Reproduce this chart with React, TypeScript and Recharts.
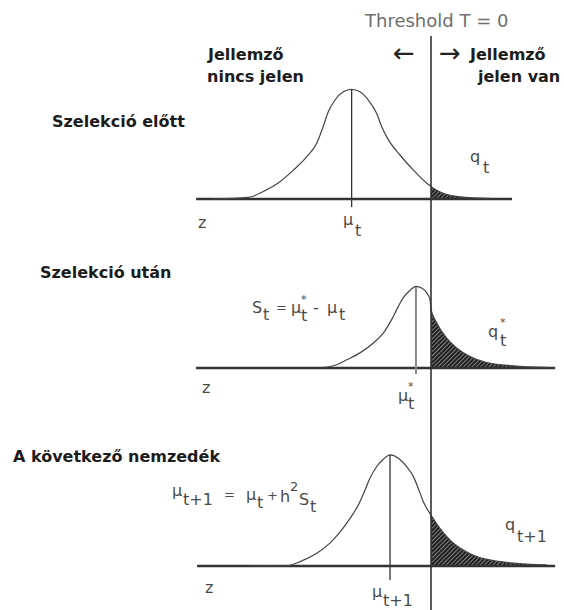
import { Area, ComposedChart, Line, ReferenceLine, XAxis, YAxis } from "recharts";

// Liability scale: the threshold sits at z = 0, densities share one vertical scale.
const zBefore = [-6.84, -5.71, -5.24, -4.72, -4.3, -3.88, -3.57, -3.37, -3.21, -3.0, -2.74, -2.48, -2.22, -1.96, -1.7, -1.54, -1.33, -0.97, -0.55, -0.13, 0, 0.38, 0.91, 1.84];
const densityBefore = [0, 0.006, 0.027, 0.063, 0.105, 0.154, 0.203, 0.263, 0.317, 0.36, 0.39, 0.399, 0.39, 0.36, 0.312, 0.263, 0.215, 0.16, 0.105, 0.057, 0.045, 0.021, 0.008, 0.002];

const zAfter = [-3.37, -2.95, -2.63, -2.22, -1.8, -1.49, -1.23, -1.02, -0.87, -0.66, -0.47, -0.29, -0.13, -0.03, 0, 0.18, 0.49, 0.8, 1.22, 1.74, 2.57, 3.62];
const densityAfter = [0.002, 0.012, 0.03, 0.055, 0.091, 0.127, 0.176, 0.224, 0.255, 0.282, 0.297, 0.291, 0.273, 0.248, 0.212, 0.164, 0.109, 0.073, 0.042, 0.02, 0.008, 0.002];

const zNext = [-5.66, -4.51, -4.09, -3.57, -3.16, -2.79, -2.53, -2.27, -2.06, -1.91, -1.7, -1.49, -1.28, -1.02, -0.76, -0.55, -0.4, -0.24, 0, 0.28, 0.59, 1.01, 1.43, 2.16, 2.99, 3.62];
const densityNext = [0, 0.001, 0.016, 0.046, 0.083, 0.131, 0.173, 0.222, 0.276, 0.319, 0.361, 0.388, 0.404, 0.392, 0.361, 0.325, 0.283, 0.234, 0.185, 0.137, 0.095, 0.058, 0.034, 0.016, 0.007, 0.004];

// population means (mu_t, mu*_t, mu_t+1)
const means = [-2.48, -0.47, -1.28];
// extent of each z axis
const axisExtents: [number, number][] = [[-7.34, 2.53], [-7.34, 3.88], [-7.31, 3.88]];

const THRESHOLD = 0;
const Z_DOMAIN: [number, number] = [-8, 4];
const PX_PER_UNIT = 275;
const W = 564;

type Pt = { z: number; d: number };
const toPoints = (zs: number[], ds: number[]): Pt[] => zs.map((z, i) => ({ z, d: ds[i] }));

const panels = [
  { key: "before", top: 36, bottom: 240, baseline: 199, data: toPoints(zBefore, densityBefore), mu: means[0], axis: axisExtents[0], tick: 8, muColor: "#333", muWidth: 1.3 },
  { key: "after", top: 240, bottom: 425, baseline: 368, data: toPoints(zAfter, densityAfter), mu: means[1], axis: axisExtents[1], tick: 6, muColor: "#8a8a8a", muWidth: 2 },
  { key: "next", top: 425, bottom: 610, baseline: 566, data: toPoints(zNext, densityNext), mu: means[2], axis: axisExtents[2], tick: 14, muColor: "#333", muWidth: 1.3 },
];

type PanelProps = (typeof panels)[number];

function Panel({ key: id, top, bottom, baseline, data, mu, axis, tick, muColor, muWidth }: PanelProps) {
  const height = bottom - top;
  const yDomain: [number, number] = [-(bottom - baseline) / PX_PER_UNIT, (baseline - top) / PX_PER_UNIT];
  const tail = data.filter((p) => p.z >= THRESHOLD);
  const peak = Math.max(...data.map((p) => p.d));
  const hatch = `hatch-${id}`;
  return (
    <div style={{ position: "absolute", left: 0, top }}>
      <ComposedChart width={W} height={height} margin={{ top: 0, right: 5, bottom: 0, left: 175 }}>
        <defs>
          <pattern id={hatch} width={3} height={3} patternUnits="userSpaceOnUse" patternTransform="rotate(45)">
            <rect width={3} height={3} fill="#1e1e1e" />
            <line x1={0} y1={0} x2={0} y2={3} stroke="#fff" strokeWidth={0.9} />
          </pattern>
        </defs>
        <XAxis type="number" dataKey="z" domain={Z_DOMAIN} hide allowDataOverflow />
        <YAxis type="number" domain={yDomain} hide allowDataOverflow />
        <Area
          data={tail}
          dataKey="d"
          type="monotone"
          stroke="none"
          fill={`url(#${hatch})`}
          fillOpacity={1}
          baseValue={0}
          isAnimationActive={false}
        />
        <ReferenceLine
          segment={[{ x: axis[0], y: 0 }, { x: axis[1], y: 0 }]}
          stroke="#333"
          strokeWidth={2.6}
        />
        <ReferenceLine
          segment={[{ x: mu, y: -tick / PX_PER_UNIT }, { x: mu, y: peak }]}
          stroke={muColor}
          strokeWidth={muWidth}
        />
        <Line
          data={data}
          dataKey="d"
          type="monotone"
          dot={false}
          stroke="#444"
          strokeWidth={1.2}
          isAnimationActive={false}
        />
        <ReferenceLine x={THRESHOLD} stroke="#333" strokeWidth={1.6} />
      </ComposedChart>
    </div>
  );
}

const BOLD = { fontFamily: "DejaVu Sans", fontWeight: 700, fontSize: 16, fill: "#1c1c1c" } as const;
const MATH = { fontFamily: "DejaVu Sans", fontSize: 16, fill: "#4a4a4a" } as const;
const OP = { fontFamily: "DejaVu Sans", fontSize: 13, fill: "#4a4a4a" } as const;
const STAR = { fontFamily: "DejaVu Sans", fontSize: 11, fill: "#4a4a4a" } as const;
const ARROW = { fontFamily: "DejaVu Sans", fontSize: 26, fill: "#222" } as const;

function Labels() {
  return (
    <svg width={W} height={610} style={{ position: "absolute", left: 0, top: 0, pointerEvents: "none" }}>
      <text x={365} y={27} fontFamily="DejaVu Sans" fontSize={18} fill="#6e6e6e">Threshold T = 0</text>

      <text x={208} y={60} {...BOLD}>Jellemző</text>
      <text x={207} y={82} {...BOLD}>nincs jelen</text>
      <text x={393} y={62} {...ARROW}>←</text>
      <text x={439} y={62} {...ARROW}>→</text>
      <text x={470} y={60} {...BOLD}>Jellemző</text>
      <text x={478} y={82} {...BOLD}>jelen van</text>

      <text x={52} y={127} {...BOLD}>Szelekció előtt</text>
      <text x={40} y={278} {...BOLD}>Szelekció után</text>
      <text x={13} y={462} {...BOLD}>A következő nemzedék</text>

      {/* before selection */}
      <text x={198} y={228} {...MATH}>z</text>
      <text x={343} y={225} {...MATH}>μ</text>
      <text x={355} y={236} {...MATH}>t</text>
      <text x={470} y={162} {...MATH}>q</text>
      <text x={483} y={173} {...MATH}>t</text>

      {/* after selection */}
      <text x={202} y={393} {...MATH}>z</text>
      <text x={252} y={313} {...MATH}>S</text>
      <text x={263} y={320} {...MATH}>t</text>
      <text x={276} y={312} {...OP}>=</text>
      <text x={291} y={313} {...MATH}>μ</text>
      <text x={301} y={303} {...STAR}>*</text>
      <text x={301} y={321} {...MATH}>t</text>
      <text x={313} y={313} {...MATH}>-</text>
      <text x={327} y={313} {...MATH}>μ</text>
      <text x={339} y={320} {...MATH}>t</text>
      <text x={488} y={337} {...MATH}>q</text>
      <text x={500} y={326} {...STAR}>*</text>
      <text x={500} y={346} {...MATH}>t</text>
      <text x={398} y={401} {...MATH}>μ</text>
      <text x={408} y={390} {...STAR}>*</text>
      <text x={408} y={409} {...MATH}>t</text>

      {/* next generation */}
      <text x={205} y={593} {...MATH}>z</text>
      <text x={172} y={496} {...MATH}>μ</text>
      <text x={183} y={505} {...MATH}>t+1</text>
      <text x={224} y={499} {...OP}>=</text>
      <text x={246} y={500} {...MATH}>μ</text>
      <text x={257} y={508} {...MATH}>t</text>
      <text x={267} y={500} {...OP}>+</text>
      <text x={280} y={502} {...MATH}>h</text>
      <text x={290} y={491} {...MATH} fontSize={13}>2</text>
      <text x={299} y={505} {...MATH}>S</text>
      <text x={310} y={512} {...MATH}>t</text>
      <text x={505} y={530} {...MATH}>q</text>
      <text x={517} y={542} {...MATH}>t+1</text>
      <text x={372} y={597} {...MATH}>μ</text>
      <text x={383} y={606} {...MATH}>t+1</text>
    </svg>
  );
}

export default function App() {
  return (
    <div style={{ position: "absolute", left: 0, top: 0, width: W, height: 610, background: "#fff", overflow: "hidden" }}>
      {panels.map((p) => (
        <Panel key={p.key} {...p} />
      ))}
      <Labels />
    </div>
  );
}
